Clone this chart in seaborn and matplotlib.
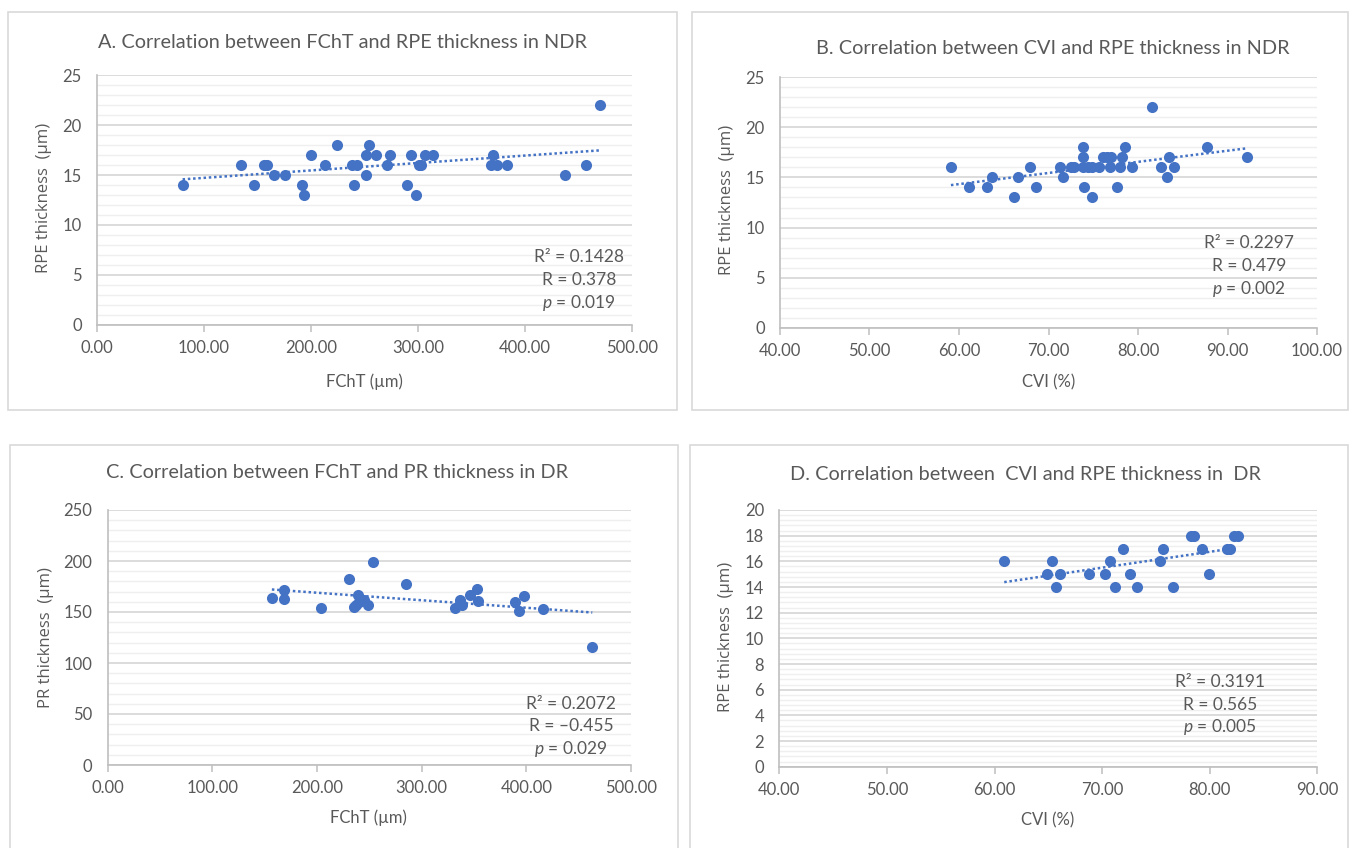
import numpy as np
import pandas as pd
import matplotlib
matplotlib.use("Agg")
import matplotlib.pyplot as plt
from matplotlib.patches import Rectangle
from matplotlib.ticker import MultipleLocator, FormatStrFormatter
import seaborn as sns

# ---------------- data ----------------
a_fcht = [80, 135, 147, 156, 159, 165, 176, 192, 193, 200, 213, 224, 238, 240, 243,
          251, 251, 254, 261, 271, 274, 290, 293, 298, 301, 303, 307, 314, 368, 370,
          374, 383, 437, 457, 470]
a_rpe = [14, 16, 14, 16, 16, 15, 15, 14, 13, 17, 16, 18, 16, 14, 16,
         17, 15, 18, 17, 16, 17, 14, 17, 13, 16, 16, 17, 17, 16, 17,
         16, 16, 15, 16, 22]

b_cvi = [59.1, 61.1, 63.1, 63.7, 66.2, 66.6, 67.9, 68.6, 71.3, 71.6, 72.5, 72.8,
         73.8, 73.8, 73.8, 74.0, 74.4, 74.9, 74.9, 75.6, 76.1, 76.5, 76.9, 77.0,
         77.7, 78.0, 78.2, 78.5, 79.3, 81.6, 82.6, 83.2, 83.5, 84.0, 87.7, 92.2]
b_rpe = [16, 14, 14, 15, 13, 15, 16, 14, 16, 15, 16, 16,
         18, 17, 16, 14, 16, 13, 16, 16, 17, 17, 16, 17,
         14, 16, 17, 18, 16, 22, 16, 15, 17, 16, 18, 17]

c_fcht = [157, 169, 169, 204, 231, 235, 237, 239, 240, 245, 249, 254, 285, 332,
          337, 339, 346, 353, 354, 389, 393, 398, 416, 463]
c_pr = [164, 172, 163, 154, 182, 155, 157, 167, 160, 162, 157, 199, 177, 154,
        162, 157, 167, 173, 161, 160, 151, 166, 153, 116]

d_cvi = [60.9, 64.9, 65.3, 65.7, 66.1, 68.8, 70.3, 70.7, 71.2, 71.9, 72.6, 73.2,
         75.4, 75.7, 76.6, 78.3, 78.5, 79.3, 79.9, 81.6, 81.9, 82.3, 82.6]
d_rpe = [16, 15, 16, 14, 15, 15, 15, 16, 14, 17, 15, 14,
         16, 17, 14, 18, 18, 17, 15, 17, 17, 18, 18]

titles = ["A. Correlation between FChT and RPE thickness in NDR",
          "B. Correlation between CVI and RPE thickness in NDR",
          "C. Correlation between FChT and PR thickness in DR",
          "D. Correlation between  CVI and RPE thickness in  DR"]
xlabels = ["FChT (\u00b5m)", "CVI (%)", "FChT (\u00b5m)", "CVI (%)"]
ylabels = ["RPE thickness  (\u00b5m)", "RPE thickness  (\u00b5m)",
           "PR thickness  (\u00b5m)", "RPE thickness  (\u00b5m)"]
stats = [["R\u00b2 = 0.1428", "R = 0.378", "$p$ = 0.019"],
         ["R\u00b2 = 0.2297", "R = 0.479", "$p$ = 0.002"],
         ["R\u00b2 = 0.2072", "R = \u20130.455", "$p$ = 0.029"],
         ["R\u00b2 = 0.3191", "R = 0.565", "$p$ = 0.005"]]

# ---------------- style ----------------
sns.set_theme(style="white")
plt.rcParams['font.family'] = ['Lato', 'DejaVu Sans']
plt.rcParams['mathtext.fontset'] = 'custom'
plt.rcParams['mathtext.rm'] = 'Lato'
plt.rcParams['mathtext.it'] = 'Lato:italic'

W, H = 1352, 848
fig = plt.figure(figsize=(W / 100, H / 100), dpi=100)
fig.patch.set_facecolor("white")

TXT = "#595959"
BLUE = "#4472C4"
GRID_MAJ = "#d9d9d9"
GRID_MIN = "#efefef"


def fx(px):
    return px / W


def fy(py):
    return 1 - py / H


panels = [
    dict(data=(a_fcht, a_rpe), ax=(97, 632, 75, 325), xlim=(0, 500), xmaj=100,
         ylim=(0, 25), ymaj=5, ymin=1, box=(8, 677, 12, 410),
         title=(342, 42), xl=(364, 382), yl=(44, 198), st=(579, [257, 280, 303])),
    dict(data=(b_cvi, b_rpe), ax=(780, 1317, 77, 328), xlim=(40, 100), xmaj=10,
         ylim=(0, 25), ymaj=5, ymin=1, box=(692, 1348, 12, 410),
         title=(1053, 49), xl=(1049, 382), yl=(727, 200), st=(1249, [243, 266, 289])),
    dict(data=(c_fcht, c_pr), ax=(107.5, 631, 510, 765), xlim=(0, 500), xmaj=100,
         ylim=(0, 250), ymaj=50, ymin=10, box=(10, 678, 445, 852),
         title=(337, 473), xl=(368, 818), yl=(46, 638), st=(571, [704, 726, 749])),
    dict(data=(d_cvi, d_rpe), ax=(779.4, 1317.3, 510, 766.7), xlim=(40, 90), xmaj=10,
         ylim=(0, 20), ymaj=2, ymin=0.4, box=(690, 1348, 445, 852),
         title=(1025, 474), xl=(1048, 820), yl=(726, 637), st=(1220, [682, 705, 727])),
]

for i, p in enumerate(panels):
    bx0, bx1, by0, by1 = p["box"]
    fig.patches.append(Rectangle((fx(bx0), fy(by1)), fx(bx1 - bx0), (by1 - by0) / H,
                                 transform=fig.transFigure, fill=False,
                                 edgecolor="#d9d9d9", lw=1.2, zorder=0))
    x0, x1, y0, y1 = p["ax"]
    ax = fig.add_axes([fx(x0), fy(y1), fx(x1 - x0), (y1 - y0) / H])
    ax.set_facecolor("none")
    xs, ys = p["data"]
    df = pd.DataFrame({"x": xs, "y": ys})
    sns.regplot(data=df, x="x", y="y", ax=ax, ci=None, truncate=True,
                scatter_kws=dict(s=64, color=BLUE, edgecolor=BLUE, linewidths=0, alpha=1, zorder=3),
                line_kws=dict(color=BLUE, lw=1.8, ls=(0, (1, 1.1)), zorder=2))
    ax.set_xlim(*p["xlim"])
    ax.set_ylim(*p["ylim"])
    ax.xaxis.set_major_locator(MultipleLocator(p["xmaj"]))
    ax.xaxis.set_major_formatter(FormatStrFormatter("%.2f"))
    ax.yaxis.set_major_locator(MultipleLocator(p["ymaj"]))
    ax.yaxis.set_minor_locator(MultipleLocator(p["ymin"]))
    ax.yaxis.set_major_formatter(FormatStrFormatter("%d"))
    ax.grid(axis="y", which="major", color=GRID_MAJ, lw=1.3, zorder=0)
    ax.grid(axis="y", which="minor", color=GRID_MIN, lw=1.0, zorder=0)
    ax.grid(axis="x", visible=False)
    ax.set_axisbelow(True)
    for s in ["top", "right"]:
        ax.spines[s].set_visible(False)
    for s in ["left", "bottom"]:
        ax.spines[s].set_color("#bfbfbf")
        ax.spines[s].set_linewidth(1.2)
    ax.tick_params(axis="both", which="major", direction="out", length=5, width=1.1,
                   color="#bfbfbf", labelcolor=TXT, labelsize=12, pad=6)
    ax.tick_params(axis="y", which="minor", length=0)
    ax.tick_params(axis="x", which="both", bottom=True)
    ax.set_xlabel("")
    ax.set_ylabel("")

    tx, ty = p["title"]
    fig.text(fx(tx), fy(ty), titles[i], ha="center", va="center", fontsize=14.3, color=TXT)
    lx, ly = p["xl"]
    fig.text(fx(lx), fy(ly), xlabels[i], ha="center", va="center", fontsize=12, color=TXT)
    yx, yy = p["yl"]
    fig.text(fx(yx), fy(yy), ylabels[i], ha="center", va="center", rotation=90,
             fontsize=12, color=TXT, family=["Open Sans", "DejaVu Sans"])
    sx, sys_ = p["st"]
    for txt, yy2 in zip(stats[i], sys_):
        fig.text(fx(sx), fy(yy2), txt, ha="center", va="center", fontsize=12.5, color=TXT)

fig.savefig("out.png", dpi=100, facecolor="white")
